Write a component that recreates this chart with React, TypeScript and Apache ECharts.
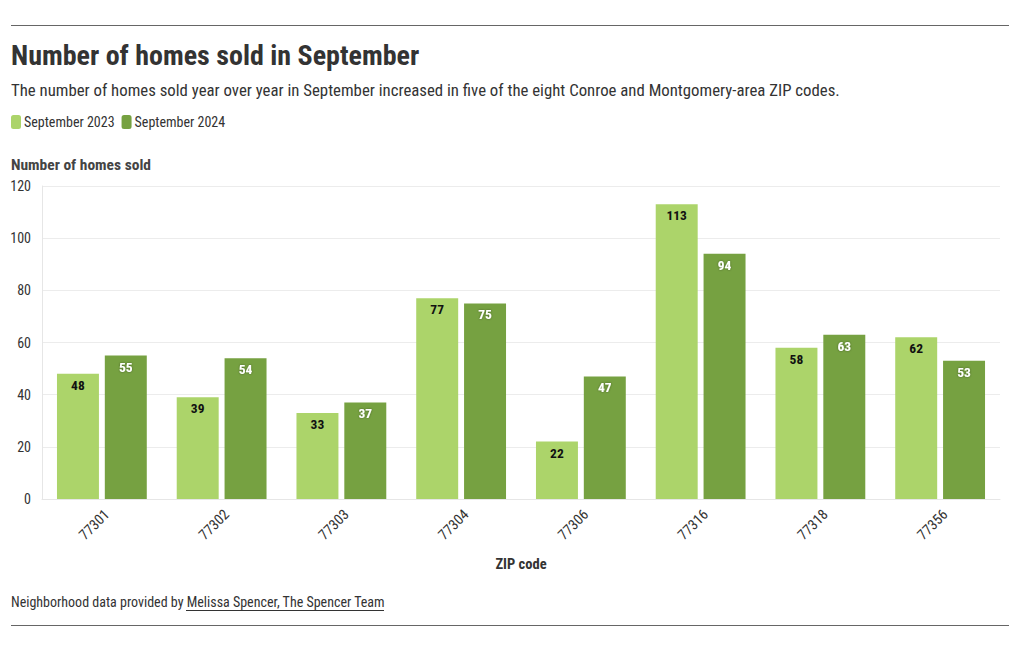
import React, { useEffect, useRef } from "react";
import * as echarts from "echarts";

const categories = ["77301", "77302", "77303", "77304", "77306", "77316", "77318", "77356"];
const sept2023 = [48, 39, 33, 77, 22, 113, 58, 62];
const sept2024 = [55, 54, 37, 75, 47, 94, 63, 53];
const yTicks = [0, 20, 40, 60, 80, 100, 120];

const FONT = "'Roboto Condensed', 'Liberation Sans Narrow', 'DejaVu Sans Condensed', Roboto, sans-serif";

export default function App() {
  const ref = useRef<HTMLDivElement>(null);
  useEffect(() => {
    if (!ref.current) return;
    const chart = echarts.init(ref.current, undefined, { renderer: "svg" });
    chart.setOption({
      animation: false,
      textStyle: { fontFamily: FONT },
      title: [
        {
          text: "Number of homes sold in September",
          left: 11,
          top: 41,
          padding: 0,
          textStyle: { fontFamily: FONT, fontSize: 28, fontWeight: "bold", color: "#333" },
        },
        {
          text: "The number of homes sold year over year in September increased in five of the eight Conroe and Montgomery-area ZIP codes.",
          left: 11,
          top: 81,
          padding: 0,
          textStyle: { fontFamily: FONT, fontSize: 16.8, fontWeight: "normal", color: "#333" },
        },
        {
          text: "Number of homes sold",
          left: 11,
          top: 157,
          padding: 0,
          textStyle: { fontFamily: FONT, fontSize: 15.5, fontWeight: "bold", color: "#444" },
        },
        {
          text: "Neighborhood data provided by Melissa Spencer, The Spencer Team",
          left: 11,
          top: 595,
          padding: 0,
          textStyle: { fontFamily: FONT, fontSize: 14, fontWeight: "normal", color: "#333" },
        },
      ],
      legend: {
        left: 6,
        top: 110,
        itemWidth: 10,
        itemHeight: 14,
        itemGap: 7,
        icon: "roundRect",
        textStyle: { fontFamily: FONT, fontSize: 14, color: "#333", padding: [0, 0, 0, -2] },
        data: ["September 2023", "September 2024"],
      },
      grid: { left: 42, right: 20, top: 186, bottom: 151, containLabel: false },
      xAxis: {
        type: "category",
        data: categories,
        name: "ZIP code",
        nameLocation: "middle",
        nameGap: 58,
        nameTextStyle: { fontFamily: FONT, fontSize: 14.5, fontWeight: "bold", color: "#333" },
        axisLine: { lineStyle: { color: "#e6e6e6" } },
        axisTick: { show: false },
        axisLabel: { rotate: 45, fontFamily: FONT, fontSize: 14.5, color: "#333", margin: 8, verticalAlign: "top" },
      },
      yAxis: {
        type: "value",
        min: yTicks[0],
        max: yTicks[yTicks.length - 1],
        interval: 20,
        axisLine: { show: true, lineStyle: { color: "#e6e6e6" } },
        axisTick: { show: false },
        splitLine: { lineStyle: { color: "#ececec" } },
        axisLabel: { fontFamily: FONT, fontSize: 14, color: "#333", margin: 11 },
      },
      series: [
        {
          name: "September 2023",
          type: "bar",
          data: sept2023,
          barGap: "14%",
          barCategoryGap: "25%",
          itemStyle: { color: "#acd46a" },
          label: {
            show: true,
            position: "insideTop",
            distance: 4,
            fontFamily: FONT,
            fontSize: 13.5,
            fontWeight: "bold",
            color: "#111",
          },
        },
        {
          name: "September 2024",
          type: "bar",
          data: sept2024,
          barGap: "14%",
          barCategoryGap: "25%",
          itemStyle: { color: "#76a141" },
          label: {
            show: true,
            position: "insideTop",
            distance: 4,
            fontFamily: FONT,
            fontSize: 13.5,
            fontWeight: "bold",
            color: "#fff",
            textShadowColor: "rgba(0,0,0,0.4)",
            textShadowBlur: 2,
          },
        },
      ],
      graphic: [
        { type: "line", shape: { x1: 11, y1: 25.5, x2: 1009, y2: 25.5 }, style: { stroke: "#666", lineWidth: 1 } },
        { type: "line", shape: { x1: 11, y1: 625.5, x2: 1009, y2: 625.5 }, style: { stroke: "#666", lineWidth: 1 } },
        { type: "line", shape: { x1: 186, y1: 610.5, x2: 384, y2: 610.5 }, style: { stroke: "#333", lineWidth: 1 } },
      ],
    });
    return () => chart.dispose();
  }, []);
  return <div ref={ref} style={{ position: "fixed", left: 0, top: 0, width: 1020, height: 650, background: "#fff" }} />;
}
